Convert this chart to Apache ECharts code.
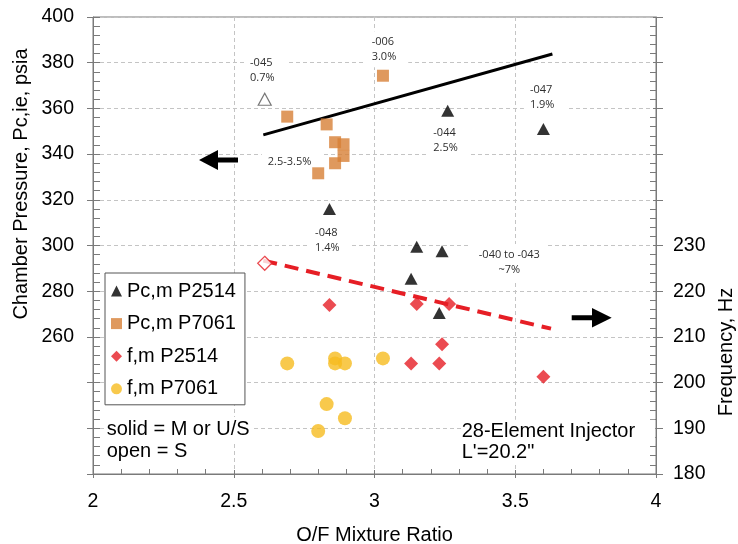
<!DOCTYPE html>
<html>
<head>
<meta charset="utf-8">
<script src="https://cdn.jsdelivr.net/npm/echarts@6/dist/echarts.min.js"></script>
<style>
html,body{margin:0;padding:0;background:#fff;}
#chart{width:738px;height:544px;}
</style>
</head>
<body>
<div id="chart"></div>
<script>
// ---- data (x = O/F mixture ratio) ----
var xTicks = [2, 2.5, 3, 3.5, 4];
var pcP2514 = [[2.84,316],[3.26,359],[3.60,351],[3.15,299.5],[3.24,297.5],[3.13,285.5],[3.23,270.5]];
var pcP2514Open = [[2.61,364]];
var pcP7061 = [[2.69,356.4],[2.83,353],[2.86,345.2],[2.89,344.3],[2.89,339.2],[2.86,336],[2.80,331.6],[3.03,374.3]];
var fP2514 = [[2.84,217],[3.15,217.2],[3.265,217.2],[3.24,208.4],[3.13,204.2],[3.23,204.2],[3.60,201.3]];
var fP2514Open = [[2.61,226.1]];
var fP7061 = [[2.69,204.2],[2.86,205.3],[2.86,204.2],[2.895,204.2],[3.03,205.3],[2.83,195.3],[2.895,192.2],[2.80,189.4]];
var pcTrend = [[2.605,348.4],[3.632,383.8]];
var fTrend = [[2.605,226.7],[3.627,211.8]];
// annotation labels placed in (x, Pc) coordinates
var notesLeft = [
  [2.558,376.7,'-045\n0.7%'],
  [2.990,385.9,'-006\n3.0%'],
  [3.552,364.8,'-047\n1.9%'],
  [3.209,346.0,'-044\n2.5%'],
  [2.621,336.7,'2.5-3.5%'],
  [2.789,302.1,'-048\n1.4%']
];
var notesCenter = [
  [3.479,292.8,'-040 to -043\n~7%']
];
var legendNames = ['Pc,m P2514','Pc,m P7061','f,m P2514','f,m P7061'];

var C_BLACK='#000000', C_ORANGE='#D77F36', C_RED='#E61E25', C_YELLOW='#F6BB1F';
var AXIS_C='#7a7a7a';
var FONT='Liberation Sans, Arial, sans-serif';

var chart = echarts.init(document.getElementById('chart'), null, {renderer:'canvas'});

function bigText(x, y, t, pad){
  return {type:'text', x:x, y:y, z:5,
    style:{text:t, font:'20px '+FONT, fill:'#000', textAlign:'left', textVerticalAlign:'middle',
      backgroundColor:'#fff', padding:pad}};
}

var option = {
  animation:false,
  backgroundColor:'#ffffff',
  grid:{left:93, right:82, top:17, bottom:70, show:true, borderColor:AXIS_C, borderWidth:1, outerBoundsMode:'none', containLabel:false},
  legend:{
    data: legendNames, orient:'vertical', left:105, top:273,
    itemWidth:11, itemHeight:11, itemGap:12.6,
    padding:[8,9,6,6], borderColor:'#555', borderWidth:1, backgroundColor:'#fff',
    textStyle:{fontFamily:FONT, fontSize:20, lineHeight:20, color:'#000'},
    selectedMode:false
  },
  xAxis:[
    {type:'value', min:xTicks[0], max:xTicks[xTicks.length-1], interval:0.5, position:'bottom',
     axisLine:{show:true, lineStyle:{color:AXIS_C}},
     axisTick:{show:true, inside:true, length:4, lineStyle:{color:AXIS_C}},
     minorTick:{show:true, splitNumber:5, length:5, lineStyle:{color:AXIS_C}},
     axisLabel:{margin:18, color:'#000', fontFamily:FONT, fontSize:19.5},
     splitLine:{show:true, lineStyle:{color:'#c4c4c4', type:[4,3]}}},
    {type:'value', min:xTicks[0], max:xTicks[xTicks.length-1], interval:0.5, position:'bottom',
     axisLine:{show:false}, axisTick:{show:true, inside:false, length:4, lineStyle:{color:AXIS_C}},
     axisLabel:{show:false}, splitLine:{show:false}}
  ],
  yAxis:[
    {type:'value', min:200, max:400, interval:20, position:'left',
     axisLine:{show:true, lineStyle:{color:AXIS_C}},
     axisTick:{show:true, inside:true, length:7, lineStyle:{color:AXIS_C}},
     minorTick:{show:true, splitNumber:5, length:7, lineStyle:{color:AXIS_C}},
     axisLabel:{margin:19, color:'#000', fontFamily:FONT, fontSize:19.5,
       formatter:function(v){return v>=260 ? String(v) : '';}},
     splitLine:{show:true, lineStyle:{color:'#c4c4c4', type:[4,3]}}},
    {type:'value', min:180, max:280, interval:10, position:'right',
     axisLine:{show:true, lineStyle:{color:AXIS_C}},
     axisTick:{show:true, inside:true, length:3, lineStyle:{color:AXIS_C}},
     minorTick:{show:true, splitNumber:5, length:6, lineStyle:{color:AXIS_C}},
     axisLabel:{margin:17, color:'#000', fontFamily:FONT, fontSize:19.5,
       formatter:function(v){return v<=230 ? String(v) : '';}},
     splitLine:{show:false}},
    {type:'value', min:200, max:400, interval:20, position:'left',
     axisLine:{show:false}, axisTick:{show:true, inside:false, length:6, lineStyle:{color:AXIS_C}},
     axisLabel:{show:false}, splitLine:{show:false}},
    {type:'value', min:180, max:280, interval:10, position:'right',
     axisLine:{show:false}, axisTick:{show:true, inside:false, length:7, lineStyle:{color:AXIS_C}},
     axisLabel:{show:false}, splitLine:{show:false}}
  ],
  series:[
    {type:'line', name:'Pc trend', xAxisIndex:0, yAxisIndex:0, data:pcTrend, showSymbol:false, symbol:'none',
     lineStyle:{color:C_BLACK, width:3}, z:6, silent:true},
    {type:'line', name:'f trend', xAxisIndex:0, yAxisIndex:1, data:fTrend, showSymbol:false, symbol:'none',
     lineStyle:{color:C_RED, width:4, type:[14,8]}, z:6, silent:true},
    {type:'scatter', name:legendNames[0], xAxisIndex:0, yAxisIndex:0, symbol:'triangle', symbolSize:[13,12],
     itemStyle:{color:C_BLACK}, z:7,
     data: pcP2514.concat(pcP2514Open.map(function(d){return {value:d, itemStyle:{color:'#fff', borderColor:'#555', borderWidth:1.2}};}))},
    {type:'scatter', name:legendNames[1], xAxisIndex:0, yAxisIndex:0, symbol:'rect', symbolSize:12,
     itemStyle:{color:C_ORANGE}, z:7, data: pcP7061},
    {type:'scatter', name:legendNames[2], xAxisIndex:0, yAxisIndex:1, symbol:'diamond', symbolSize:14,
     itemStyle:{color:C_RED}, z:7,
     data: fP2514.concat(fP2514Open.map(function(d){return {value:d, itemStyle:{color:'#fff', borderColor:C_RED, borderWidth:1.3}};}))},
    {type:'scatter', name:legendNames[3], xAxisIndex:0, yAxisIndex:1, symbol:'circle', symbolSize:14,
     itemStyle:{color:C_YELLOW}, z:7, data: fP7061}
  ],
  graphic:[
    {type:'text', x:21.7, y:184, rotation:Math.PI/2,
     style:{text:'Chamber Pressure, Pc,ie, psia', font:'20px '+FONT, fill:'#000', textAlign:'center', textVerticalAlign:'middle'}},
    {type:'text', x:726, y:352, rotation:Math.PI/2,
     style:{text:'Frequency, Hz', font:'20px '+FONT, fill:'#000', textAlign:'center', textVerticalAlign:'middle'}},
    {type:'text', x:374.5, y:535,
     style:{text:'O/F Mixture Ratio', font:'20px '+FONT, fill:'#000', textAlign:'center', textVerticalAlign:'middle'}},
    bigText(106.7, 429, 'solid = M or U/S', [2,2,2,0]),
    bigText(106.7, 451, 'open = S', [2,2,2,0]),
    bigText(461.7, 431.7, '28-Element Injector', [2,20,2,0]),
    bigText(461.7, 452.5, "L'=20.2\"", [2,2,2,0]),
    {type:'polygon', z:10, shape:{points:[[199,160],[218,150],[218,157.5],[238,157.5],[238,162.5],[218,162.5],[218,170]]}, style:{fill:'#000'}},
    {type:'polygon', z:10, shape:{points:[[611.7,317.7],[592,308],[592,315.2],[571.7,315.2],[571.7,320.2],[592,320.2],[592,327.4]]}, style:{fill:'#000'}}
  ]
};
chart.setOption(option);

// annotation texts placed through the chart's own coordinate system
var notes = [];
function addNotes(arr, align, pad, dx){
  arr.forEach(function(d){
    var p = chart.convertToPixel({xAxisIndex:0, yAxisIndex:0}, [d[0], d[1]]);
    notes.push({type:'text', x:p[0] + dx, y:p[1], z:4,
      style:{text:d[2], font:'11px Open Sans, sans-serif', fill:'#2e2e2e', lineHeight:15,
        textAlign:align, textVerticalAlign:'middle', backgroundColor:'#fff', padding:pad}});
  });
}
addNotes(notesLeft, 'left', [3,12,3,6], -6);
addNotes(notesCenter, 'center', [3,8,3,8], 0);
chart.setOption({graphic: option.graphic.concat(notes)});
</script>
</body>
</html>
